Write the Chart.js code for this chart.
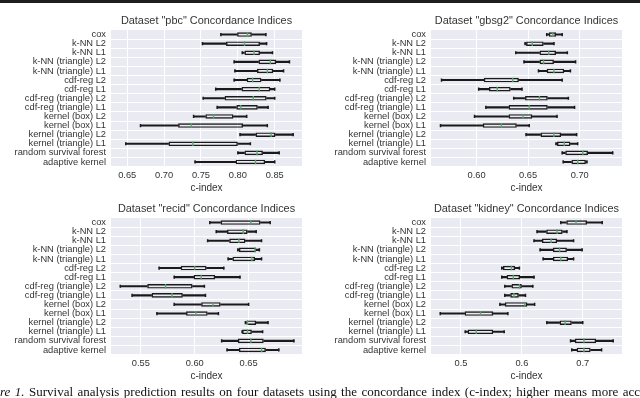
<!DOCTYPE html>
<html><head><meta charset="utf-8">
<script src="https://cdn.jsdelivr.net/npm/chart.js@4"></script>
<style>
html,body{margin:0;padding:0;background:#fff;}
#wrap{position:relative;width:640px;height:398px;overflow:hidden;background:#fff;}
#topbar{position:absolute;left:0;top:0;width:640px;height:3px;background:#1e1e1e;}
canvas{position:absolute;}
#cap{position:absolute;white-space:nowrap;font-family:"Liberation Serif","Times New Roman",serif;font-size:13px;line-height:13px;color:#111;top:385px;}
</style></head><body>
<div id="wrap">
<div id="topbar"></div>
<canvas id="c1" width="320" height="196" style="left:0;top:0"></canvas>
<canvas id="c2" width="320" height="196" style="left:320px;top:0"></canvas>
<canvas id="c3" width="320" height="196" style="left:0;top:188px"></canvas>
<canvas id="c4" width="320" height="196" style="left:320px;top:188px"></canvas>
<div id="cap"><i>Figure 1.</i><span id="capRest"></span></div>
</div>
<script>
// ---------- data ----------
const categories = ['cox','k-NN L2','k-NN L1','k-NN (triangle) L2','k-NN (triangle) L1','cdf-reg L2','cdf-reg L1',
  'cdf-reg (triangle) L2','cdf-reg (triangle) L1','kernel (box) L2','kernel (box) L1','kernel (triangle) L2',
  'kernel (triangle) L1','random survival forest','adaptive kernel'];

// each row: [whisker low, Q1, median, Q3, whisker high]
const pbcStats = [
  [0.777,0.799,0.813,0.819,0.838],[0.752,0.784,0.809,0.830,0.839],[0.806,0.809,0.822,0.830,0.847],
  [0.795,0.828,0.844,0.852,0.870],[0.796,0.826,0.840,0.848,0.862],[0.795,0.812,0.820,0.832,0.857],
  [0.770,0.805,0.829,0.844,0.850],[0.753,0.782,0.821,0.839,0.850],[0.772,0.798,0.804,0.827,0.841],
  [0.740,0.756,0.767,0.794,0.812],[0.668,0.719,0.737,0.807,0.840],[0.803,0.824,0.845,0.851,0.875],
  [0.648,0.706,0.739,0.800,0.817],[0.800,0.809,0.826,0.834,0.856],[0.742,0.797,0.824,0.837,0.850]];
const gbsg2Stats = [
  [0.668,0.670,0.674,0.677,0.683],[0.647,0.648,0.654,0.665,0.675],[0.638,0.661,0.670,0.677,0.688],
  [0.646,0.661,0.665,0.675,0.696],[0.660,0.668,0.675,0.685,0.691],[0.566,0.607,0.635,0.641,0.683],
  [0.602,0.612,0.620,0.633,0.644],[0.636,0.647,0.661,0.669,0.689],[0.609,0.631,0.651,0.669,0.695],
  [0.598,0.631,0.645,0.654,0.678],[0.565,0.606,0.624,0.639,0.651],[0.648,0.662,0.675,0.682,0.697],
  [0.677,0.678,0.685,0.691,0.698],[0.683,0.686,0.703,0.708,0.732],[0.684,0.692,0.698,0.706,0.707]];
const recidStats = [
  [0.614,0.624,0.652,0.661,0.670],[0.620,0.630,0.645,0.649,0.657],[0.612,0.632,0.641,0.647,0.662],
  [0.640,0.641,0.656,0.657,0.660],[0.631,0.635,0.653,0.656,0.662],[0.567,0.587,0.600,0.611,0.627],
  [0.581,0.599,0.606,0.619,0.642],[0.531,0.556,0.573,0.598,0.609],[0.542,0.560,0.579,0.589,0.610],
  [0.581,0.606,0.617,0.624,0.650],[0.565,0.592,0.601,0.612,0.622],[0.647,0.648,0.649,0.657,0.668],
  [0.644,0.644,0.649,0.653,0.663],[0.625,0.640,0.652,0.664,0.692],[0.630,0.641,0.662,0.666,0.678]];
const kidneyStats = [
  [0.664,0.673,0.689,0.707,0.732],[0.625,0.640,0.658,0.667,0.674],[0.620,0.633,0.648,0.658,0.685],
  [0.630,0.651,0.662,0.674,0.699],[0.635,0.651,0.664,0.676,0.685],[0.567,0.569,0.583,0.589,0.596],
  [0.567,0.575,0.586,0.597,0.620],[0.572,0.583,0.596,0.600,0.618],[0.572,0.581,0.587,0.595,0.606],
  [0.564,0.572,0.605,0.609,0.621],[0.466,0.506,0.532,0.553,0.577],[0.641,0.662,0.671,0.682,0.700],
  [0.507,0.511,0.525,0.553,0.571],[0.680,0.687,0.702,0.722,0.750],[0.682,0.690,0.702,0.713,0.731]];

const pbcAxis = [0.628, 0.887];
const gbsg2Axis = [0.5558, 0.741];
const recidAxis = [0.5224, 0.6995];
const kidneyAxis = [0.4508, 0.7645];

const pbcTicks = [0.65,0.70,0.75,0.80,0.85];
const pbcTickLabels = ['0.65','0.70','0.75','0.80','0.85'];
const gbsg2Ticks = [0.60,0.65,0.70];
const gbsg2TickLabels = ['0.60','0.65','0.70'];
const recidTicks = [0.55,0.60,0.65];
const recidTickLabels = ['0.55','0.60','0.65'];
const kidneyTicks = [0.5,0.6,0.7];
const kidneyTickLabels = ['0.5','0.6','0.7'];

const titles = ['Dataset "pbc" Concordance Indices','Dataset "gbsg2" Concordance Indices',
  'Dataset "recid" Concordance Indices','Dataset "kidney" Concordance Indices'];
const xTitle = 'c-index';
const captionItalic = 'Figure 1.';
const captionRest = ' Survival analysis prediction results on four datasets using the concordance index (c-index; higher means more acc';

// ---------- drawing ----------
const FONT = '"Liberation Sans", Arial, sans-serif';
Chart.defaults.font.family = FONT;
Chart.defaults.color = '#333';

const bgPlugin = {id:'plotBg', beforeDraw(chart){
  const {ctx, chartArea:a} = chart;
  ctx.save(); ctx.fillStyle = '#EAEAF2';
  ctx.fillRect(a.left, a.top, a.right - a.left, a.bottom - a.top);
  ctx.restore();
}};
// panel title centred over the plot area (like matplotlib's ax.set_title)
const titlePlugin = {id:'panelTitle', afterDraw(chart, args, opts){
  const {ctx, chartArea:a} = chart;
  ctx.save();
  ctx.font = '10.9px ' + FONT;
  ctx.fillStyle = '#333';
  ctx.textAlign = 'center';
  ctx.textBaseline = 'middle';
  ctx.fillText(opts.text, (a.left + a.right) / 2, a.top - 9);
  ctx.restore();
}};

const INK = '#1a1a1a';
function makeChart(id, stats, axis, ticks, tickLabels, title) {
  const boxes = stats.map(s => [s[1], s[3]]);
  const wLow = stats.map(s => [s[0], s[1]]);
  const wHigh = stats.map(s => [s[3], s[4]]);
  const caps = [];
  stats.forEach((s, i) => { caps.push({x: s[0], y: categories[i]}); caps.push({x: s[4], y: categories[i]}); });
  const meds = stats.map((s, i) => ({x: s[2], y: categories[i]}));
  new Chart(document.getElementById(id), {
    type: 'bar',
    data: {
      labels: categories,
      datasets: [
        {type:'scatter', data: meds, pointStyle:'line', rotation:90, radius:2.3, borderColor:'#55A868', borderWidth:1.4, pointHoverRadius:2.3},
        {type:'scatter', data: caps, pointStyle:'line', rotation:90, radius:1.6, borderColor:INK, borderWidth:1.5, pointHoverRadius:1.6},
        {type:'bar', data: boxes, backgroundColor:'rgba(0,0,0,0)', borderColor:INK, borderWidth:1.4, borderSkipped:false,
          categoryPercentage:1, barPercentage:0.5, grouped:false},
        {type:'bar', data: wLow, backgroundColor:INK, borderWidth:0, barThickness:1.4, grouped:false},
        {type:'bar', data: wHigh, backgroundColor:INK, borderWidth:0, barThickness:1.4, grouped:false}
      ]
    },
    options: {
      indexAxis: 'y', responsive: false, animation: false, events: [],
      layout: {padding: {left: 0, right: 18, top: 30, bottom: 0}},
      plugins: {
        legend: {display: false}, tooltip: {enabled: false}, title: {display: false},
        panelTitle: {text: title}
      },
      scales: {
        x: {
          type: 'linear', min: axis[0], max: axis[1], position: 'bottom', beginAtZero: false,
          grid: {color: '#fff', lineWidth: 1, drawTicks: false},
          border: {display: false},
          afterBuildTicks: sc => { sc.ticks = ticks.map(v => ({value: v})); },
          ticks: {font: {size: 9.3}, color: '#333', padding: 3, callback: (v, i) => tickLabels[i]},
          title: {display: true, text: xTitle, color: '#333', font: {size: 10}, padding: {top: 0, bottom: 1.7}},
          afterFit: sc => { sc.height = 29.5; }
        },
        y: {
          type: 'category', offset: true,
          grid: {color: '#fff', lineWidth: 1, drawTicks: false, offset: true},
          border: {display: false},
          ticks: {font: {size: 9.3}, color: '#333', padding: 5, autoSkip: false},
          afterFit: sc => { sc.width = 111; }
        }
      }
    },
    plugins: [bgPlugin, titlePlugin]
  });
}

makeChart('c1', pbcStats, pbcAxis, pbcTicks, pbcTickLabels, titles[0]);
makeChart('c2', gbsg2Stats, gbsg2Axis, gbsg2Ticks, gbsg2TickLabels, titles[1]);
makeChart('c3', recidStats, recidAxis, recidTicks, recidTickLabels, titles[2]);
makeChart('c4', kidneyStats, kidneyAxis, kidneyTicks, kidneyTickLabels, titles[3]);

// caption
(function(){
  const rest = document.getElementById('capRest');
  rest.textContent = captionRest;
  const m = document.createElement('canvas').getContext('2d');
  m.font = 'italic 13px "Liberation Serif"';
  const hidden = m.measureText('Figu').width;
  const ital = m.measureText(captionItalic).width;
  m.font = '13px "Liberation Serif"';
  const restW = m.measureText(captionRest).width;
  const visible = ital - hidden + restW;
  const nSpaces = (captionItalic.split(' ').length - 1) + (captionRest.split(' ').length - 1);
  const cap = document.getElementById('cap');
  cap.style.left = (-hidden) + 'px';
  cap.style.wordSpacing = ((640 - visible) / nSpaces) + 'px';
})();
</script>
</body></html>
